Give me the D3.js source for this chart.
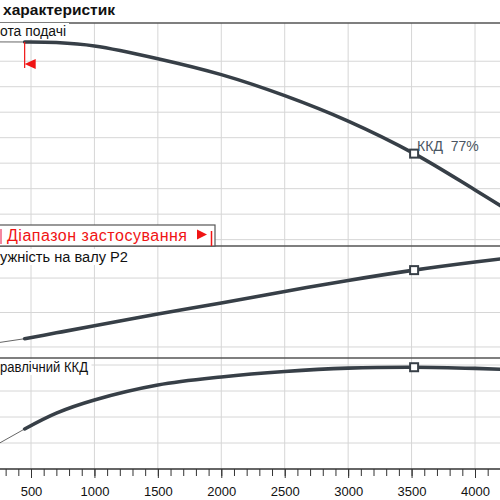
<!DOCTYPE html>
<html>
<head>
<meta charset="utf-8">
<script src="https://cdn.jsdelivr.net/npm/d3@7"></script>
<style>
  body { margin: 0; background: #fff; }
  svg { font-family: "Liberation Sans", Arial, sans-serif; }
</style>
</head>
<body>
<div id="chart"></div>
<script>
// flow values (m3/h) and the three curves
const flowQ = [450, 700, 1000, 1500, 2000, 2500, 3000, 3520, 4000, 4500];
const headH = [17.51, 17.47, 17.2, 16.2, 14.95, 13.3, 11.3, 8.75, 5.9, 2.8];
const powerP2 = [24.8, 28.2, 32.3, 39.1, 45.5, 52.2, 58.6, 64.6, 69.3, 73.6];
const effEta = [30.8, 43, 53.1, 64.6, 70.8, 75.0, 77.6, 78.3, 77.4, 75.6];

// thin extensions left of the application range
const headThinQ = [0, 450];
const headThinH = [17.52, 17.51];
const powerThinQ = [250, 450];
const powerThinP = [22.6, 24.8];
const effThinQ = [200, 450];
const effThinEta = [17.1, 30.8];

const dutyIndex = 7;   // Q = 3520
const rangeMinQ = 450;

const xGrid = d3.range(500, 4501, 500);
const xTicksMajor = d3.range(500, 4001, 500);
const xTicksMinor = d3.range(0, 4601, 100);
const headGrid = [2, 4, 6, 8, 10, 12, 14, 16];
const powerGrid = [20, 40, 60];
const effGrid = [20, 40, 60, 80];

const width = 500, height = 500;
const curveColor = "#373f47";
const gridColor = "#d6d6d6";
const frameColor = "#555";
const red = "#f01414";

const svg = d3.select("#chart").append("svg")
    .attr("width", width)
    .attr("height", height);

const x = d3.scaleLinear().domain([500, 4000]).range([31, 475]);
const yH = d3.scaleLinear().domain([1.5, 19]).range([246, 23]);
const yP = d3.scaleLinear().domain([13.6, 78.6]).range([358, 246]);
const yE = d3.scaleLinear().domain([0, 85.4]).range([469, 358]);

// horizontal grid
function hGrid(scale, values) {
  svg.append("g").selectAll("line")
      .data(values)
      .enter().append("line")
      .attr("x1", 0).attr("x2", width)
      .attr("y1", d => scale(d)).attr("y2", d => scale(d))
      .attr("stroke", gridColor)
      .attr("stroke-width", 1);
}
hGrid(yH, headGrid);
hGrid(yP, powerGrid);
hGrid(yE, effGrid);

// vertical grid
svg.append("g").selectAll("line")
    .data(xGrid)
    .enter().append("line")
    .attr("x1", d => x(d)).attr("x2", d => x(d))
    .attr("y1", 23).attr("y2", 469)
    .attr("stroke", gridColor)
    .attr("stroke-width", 1);

// panel frames
[23, 246, 358].forEach(function(yy) {
  svg.append("line")
      .attr("x1", 0).attr("x2", width)
      .attr("y1", yy).attr("y2", yy)
      .attr("stroke", frameColor)
      .attr("stroke-width", 1.4);
});

// title
svg.append("text")
    .attr("x", 3).attr("y", 15)
    .attr("font-weight", "bold")
    .style("font-size", "15px")
    .attr("textLength", 112)
    .attr("lengthAdjust", "spacingAndGlyphs")
    .attr("fill", "#111")
    .text("характеристик");

// curves
function drawCurve(qs, vs, scale, thick) {
  let line = d3.line()
      .x((d, i) => x(qs[i]))
      .y(d => scale(d))
      .curve(d3.curveCatmullRom);
  svg.append("path")
      .datum(vs)
      .attr("d", line)
      .attr("fill", "none")
      .attr("stroke", thick ? curveColor : "#666")
      .attr("stroke-width", thick ? 3.6 : 1)
      .attr("stroke-linecap", "round");
}
drawCurve(headThinQ, headThinH, yH, false);
drawCurve(powerThinQ, powerThinP, yP, false);
drawCurve(effThinQ, effThinEta, yE, false);
drawCurve(flowQ, headH, yH, true);
drawCurve(flowQ, powerP2, yP, true);
drawCurve(flowQ, effEta, yE, true);

// duty point markers
[[headH, yH], [powerP2, yP], [effEta, yE]].forEach(function(p) {
  svg.append("rect")
      .attr("x", x(flowQ[dutyIndex]) - 4)
      .attr("y", p[1](p[0][dutyIndex]) - 4)
      .attr("width", 8).attr("height", 8)
      .attr("fill", "#fff")
      .attr("stroke", curveColor)
      .attr("stroke-width", 2);
});

svg.append("text")
    .attr("x", x(flowQ[dutyIndex]) + 3)
    .attr("y", yH(headH[dutyIndex]) - 3)
    .style("font-size", "14px")
    .attr("fill", "#4a5662")
    .attr("xml:space", "preserve")
    .text("ККД  77%");

// range start marker
let rx = x(rangeMinQ);
svg.append("line")
    .attr("x1", rx).attr("x2", rx)
    .attr("y1", yH(headH[0])).attr("y2", 68)
    .attr("stroke", red).attr("stroke-width", 1.2);
svg.append("path")
    .attr("d", `M${rx},64 L${rx + 11},59 L${rx + 11},69 Z`)
    .attr("fill", red);

// panel labels (only the part visible in the picture)
function panelLabel(txt, xEnd, yBase) {
  let t = svg.append("text")
      .attr("x", 0).attr("y", yBase)
      .style("font-size", "14px")
      .attr("textLength", xEnd)
      .attr("lengthAdjust", "spacingAndGlyphs")
      .attr("fill", "#111")
      .text(txt);
  let b = t.node().getBBox();
  svg.insert("rect", function() { return t.node(); })
      .attr("x", 0).attr("y", b.y)
      .attr("width", b.width + 3).attr("height", b.height)
      .attr("fill", "#fff");
}
panelLabel("ота подачі", 66, 36);
panelLabel("ужність на валу  P2", 128, 262);
panelLabel("равлічний ККД", 88, 372);

// application range legend box
svg.append("rect")
    .attr("x", -5).attr("y", 225)
    .attr("width", 220).attr("height", 21)
    .attr("fill", "#fff")
    .attr("stroke", frameColor)
    .attr("stroke-width", 1.2);
svg.append("line")
    .attr("x1", 1).attr("x2", 1).attr("y1", 229).attr("y2", 244)
    .attr("stroke", "#f06080").attr("stroke-width", 1.5);
svg.append("text")
    .attr("x", 7).attr("y", 241)
    .style("font-size", "16px")
    .attr("textLength", 180)
    .attr("lengthAdjust", "spacing")
    .attr("fill", red)
    .text("Діапазон застосування");
svg.append("path")
    .attr("d", "M197,229.5 L207,234.5 L197,239.5 Z")
    .attr("fill", red);
svg.append("line")
    .attr("x1", 211.5).attr("x2", 211.5).attr("y1", 231).attr("y2", 246)
    .attr("stroke", red).attr("stroke-width", 1.5);

// x axis
let axisG = svg.append("g").attr("transform", "translate(0,469)");
axisG.append("g")
    .call(d3.axisBottom(x).tickValues(xTicksMinor).tickSize(7).tickFormat(""))
    .call(g => g.select(".domain").remove());
axisG.append("g")
    .call(d3.axisBottom(x).tickValues(xTicksMajor).tickSize(9).tickPadding(9).tickFormat(d3.format("d")))
    .call(g => g.select(".domain").remove())
    .call(g => g.selectAll("text").style("font-size", "13px").attr("fill", "#111")
        .style("font-family", "'Liberation Sans', Arial, sans-serif"));
axisG.selectAll(".tick line").attr("stroke", "#333");
axisG.append("line")
    .attr("x1", 0).attr("x2", width)
    .attr("stroke", "#333").attr("stroke-width", 1.4);
</script>
</body>
</html>
